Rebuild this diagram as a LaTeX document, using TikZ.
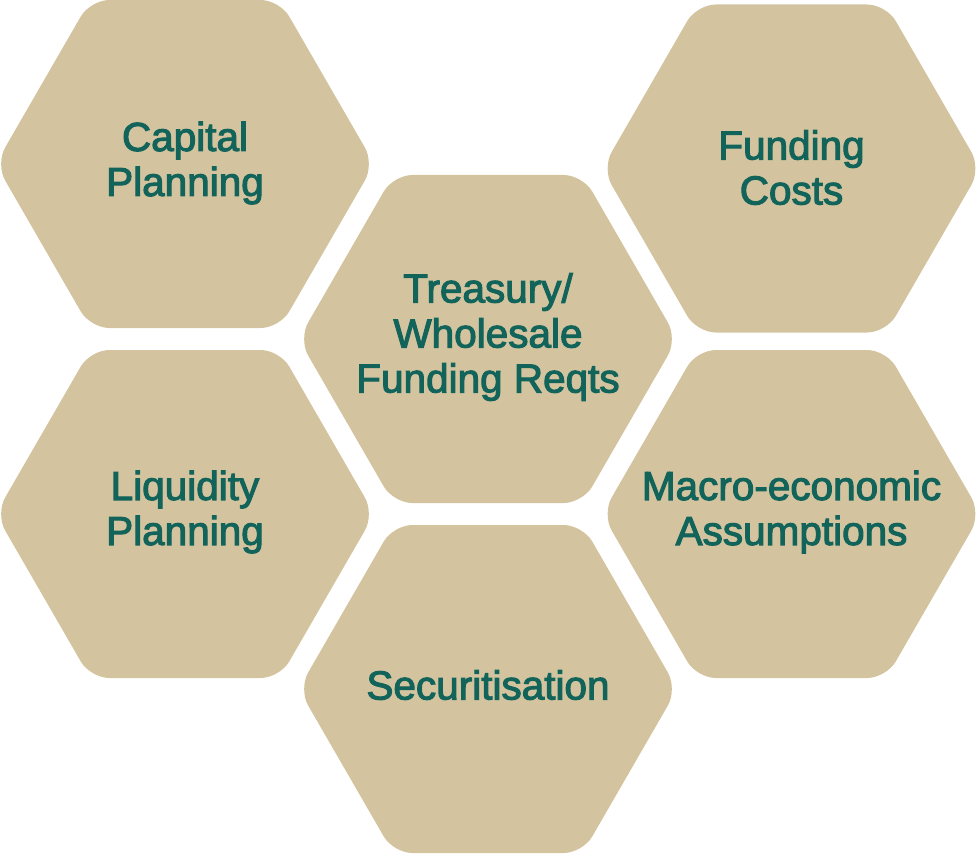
\documentclass[tikz,border=0pt]{standalone}
\usepackage{fontspec}
\newfontfamily\hexfont{Liberation Sans}[FakeBold=2.6]
\definecolor{hexfill}{RGB}{211,196,159}
\definecolor{hextext}{RGB}{18,100,90}
\begin{document}
\begin{tikzpicture}[x=1pt,y=-1pt,
  hexlabel/.style={inner sep=0pt, align=center, text=hextext,
    font=\hexfont\fontsize{40.5}{45}\selectfont},
  hexshape/.style={fill=hexfill, draw=none, rounded corners=19pt}]
\useasboundingbox (0,0) rectangle (976,853);
\foreach \cx/\cy in {185/164, 488/339, 791.5/168.5, 185/514, 791.5/514, 488/689}{
  \path[hexshape, shift={(\cx,\cy)}]
    (0,-164) -- (94.7,-164) -- (189.4,0) -- (94.7,164) -- (-94.7,164)
    -- (-189.4,0) -- (-94.7,-164) -- cycle;
}
\node[hexlabel] (capital) at (185,163) {Capital\\Planning};
\node[hexlabel] (treasury) at (488,337) {Treasury/\\Wholesale\\Funding Reqts};
\node[hexlabel] (fundcost) at (791.5,167.5) {Funding\\Costs};
\node[hexlabel] (liquidity) at (185,512) {Liquidity\\Planning};
\node[hexlabel] (macro) at (791.5,512) {Macro-economic\\Assumptions};
\node[hexlabel] (secur) at (488,685) {Securitisation};
\end{tikzpicture}
\end{document}
